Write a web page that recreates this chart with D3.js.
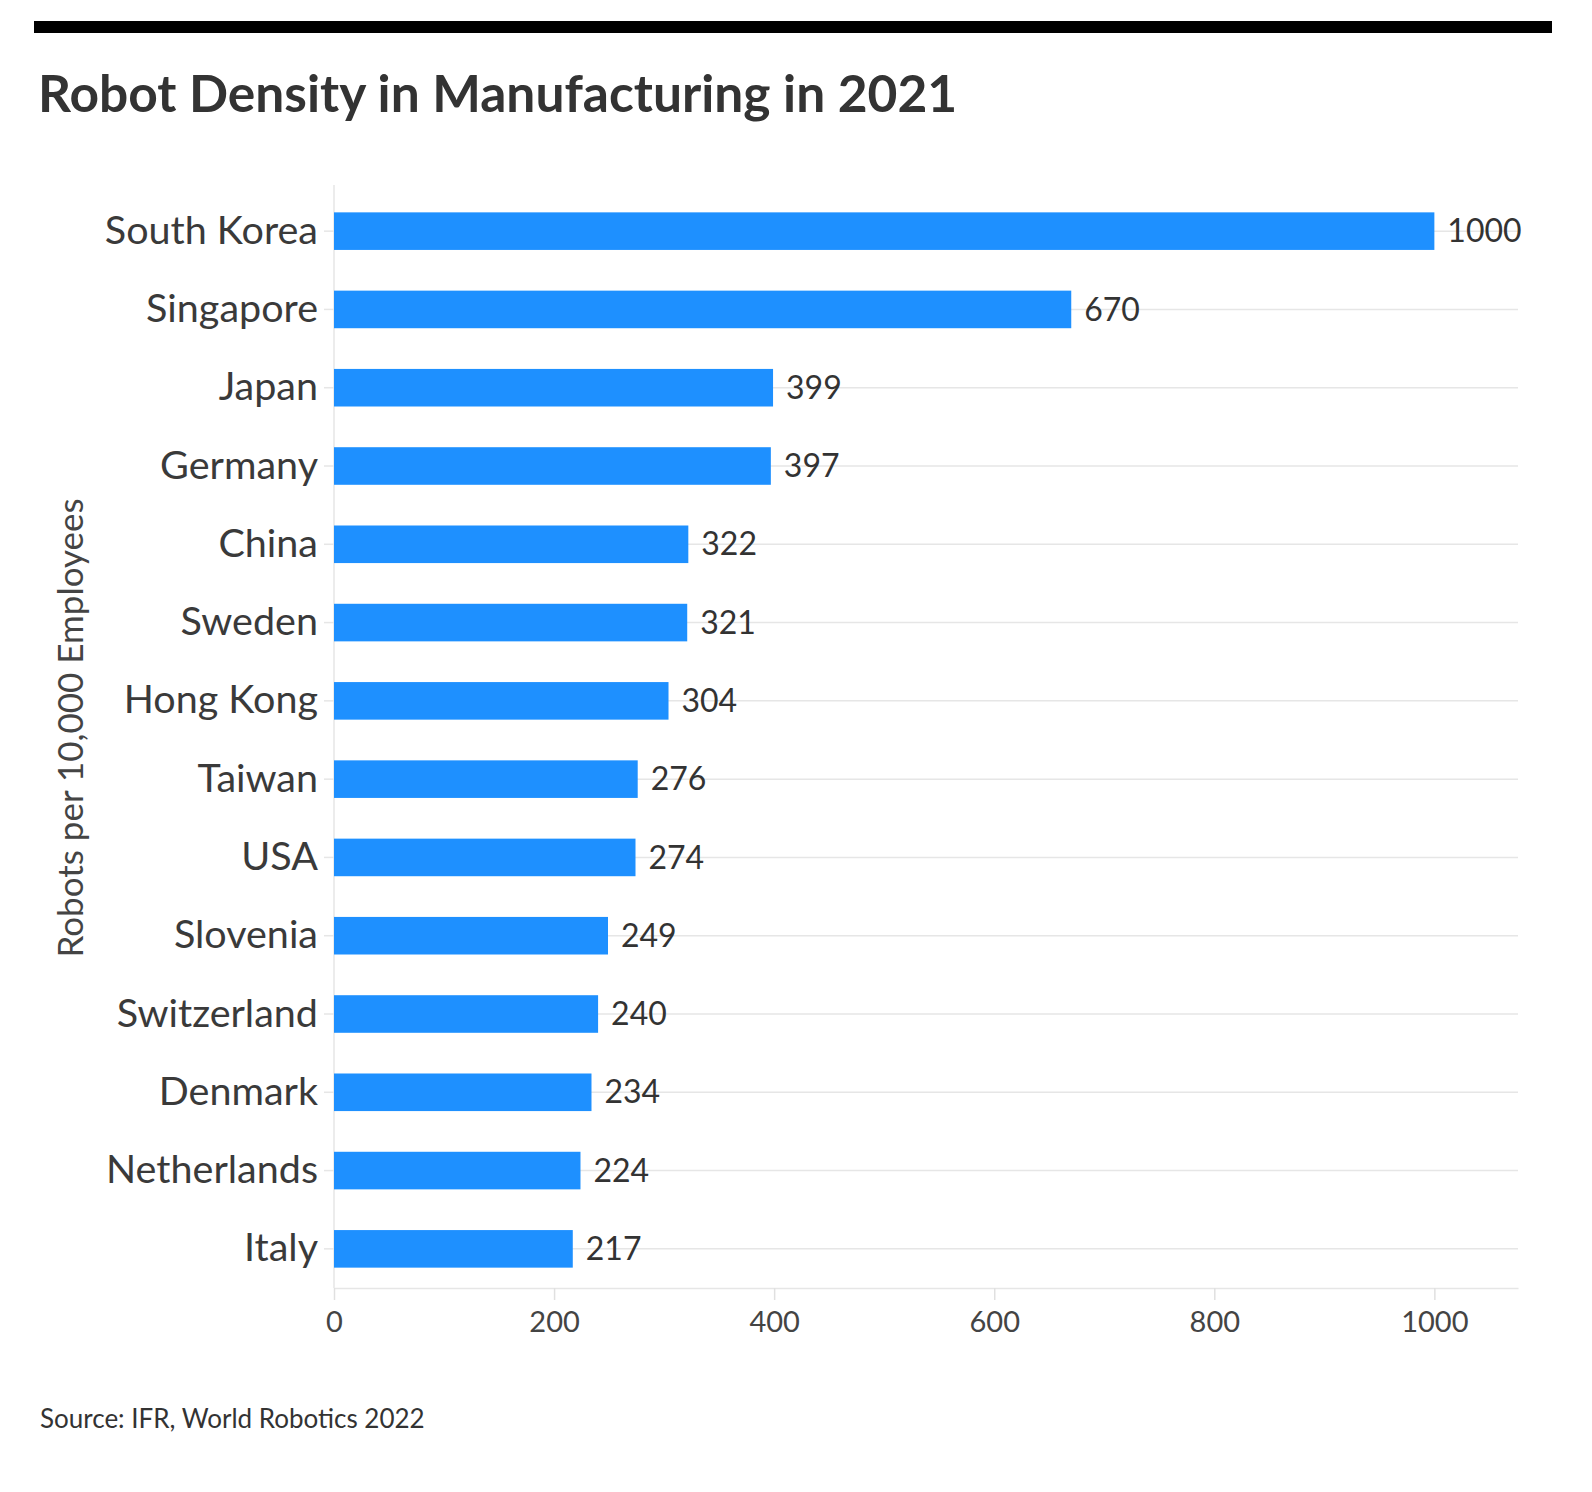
<!DOCTYPE html>
<html>
<head>
<meta charset="utf-8">
<script src="https://cdn.jsdelivr.net/npm/d3@7"></script>
<style>
  body { margin: 0; background: #fff; }
  svg { display: block; font-family: Lato, "Noto Sans", sans-serif; }
</style>
</head>
<body>
<svg id="chart" width="1592" height="1492"></svg>
<script>
const countries = ["South Korea","Singapore","Japan","Germany","China","Sweden","Hong Kong","Taiwan","USA","Slovenia","Switzerland","Denmark","Netherlands","Italy"];
const density = [1000,670,399,397,322,321,304,276,274,249,240,234,224,217];
const xTicks = [0,200,400,600,800,1000];
const title = "Robot Density in Manufacturing in 2021";
const yTitle = "Robots per 10,000 Employees";
const source = "Source: IFR, World Robotics 2022";

const data = countries.map((c,i)=>({country:c, value:density[i]}));
const svg = d3.select("#chart");

// top rule
svg.append("rect").attr("x",34).attr("y",21).attr("width",1518).attr("height",12).attr("fill","#000");

svg.append("text").attr("x",38).attr("y",112)
  .attr("font-size",51.5).attr("font-weight",700).attr("fill","#333")
  .text(title);

const x = d3.scaleLinear().domain([0,1076]).range([334,1518]);
const y = d3.scaleBand().domain(countries).range([192,1288]).paddingInner(0.52).paddingOuter(0.26);

// horizontal gridlines at category centers
svg.append("g").selectAll("line").data(countries).join("line")
  .attr("x1",x(0)).attr("x2",x.range()[1])
  .attr("y1",d=>y(d)+y.bandwidth()/2).attr("y2",d=>y(d)+y.bandwidth()/2)
  .attr("stroke","#e6e6e6").attr("stroke-width",1.5);

// vertical axis line
svg.append("line").attr("x1",x(0)).attr("x2",x(0)).attr("y1",185).attr("y2",1288)
  .attr("stroke","#e6e6e6").attr("stroke-width",1.5);

// bottom axis
const xAxis = svg.append("g").attr("transform","translate(0,1288)")
  .call(d3.axisBottom(x).tickValues(xTicks).tickSize(12).tickSizeOuter(0).tickPadding(11).tickFormat(d3.format("d")));
xAxis.select(".domain").attr("stroke","#e6e6e6").attr("stroke-width",1.5);
xAxis.selectAll(".tick line").attr("stroke","#e0e0e0").attr("stroke-width",1.5);
xAxis.selectAll(".tick text").attr("font-size",29).attr("fill","#444").attr("font-family","Lato, 'Noto Sans', sans-serif");

// left axis
const yAxis = svg.append("g").attr("transform",`translate(${x(0)},0)`)
  .call(d3.axisLeft(y).tickSize(10).tickPadding(6));
yAxis.select(".domain").remove();
yAxis.selectAll(".tick line").attr("stroke","#e6e6e6").attr("stroke-width",1.5);
yAxis.selectAll(".tick text").attr("font-size",39.5).attr("fill","#3a3a3a").attr("font-family","Lato, 'Noto Sans', sans-serif");

// bars
svg.append("g").selectAll("rect").data(data).join("rect")
  .attr("x",x(0)).attr("y",d=>y(d.country))
  .attr("width",d=>x(d.value)-x(0)).attr("height",y.bandwidth())
  .attr("fill","#1E90FF");

// value labels
svg.append("g").selectAll("text").data(data).join("text")
  .attr("x",d=>x(d.value)+13).attr("y",d=>y(d.country)+y.bandwidth()/2)
  .attr("dy","0.35em").attr("font-size",32).attr("fill","#333")
  .text(d=>d.value);

// y title
svg.append("text").attr("transform","translate(83,728) rotate(-90)")
  .attr("text-anchor","middle").attr("font-size",35).attr("fill","#444")
  .text(yTitle);

// source
svg.append("text").attr("x",40).attr("y",1428).attr("font-size",26).attr("fill","#333").text(source);
</script>
</body>
</html>
